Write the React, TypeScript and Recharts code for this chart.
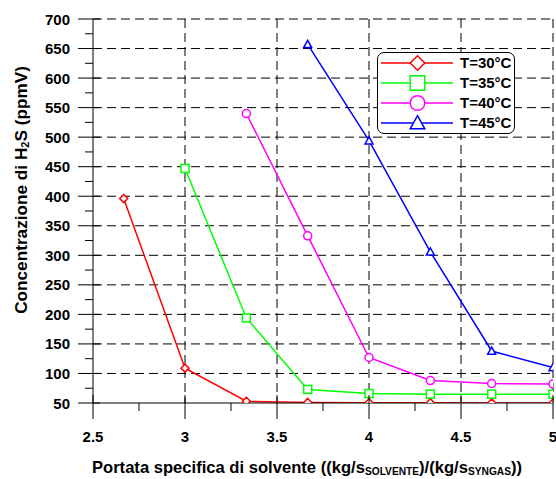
import React from 'react';
import { LineChart, Line, XAxis, YAxis, CartesianGrid, Legend } from 'recharts';

const FONT = "Arial, 'Liberation Sans', sans-serif";

const xValues = [2.6667, 3, 3.3333, 3.6667, 4, 4.3333, 4.6667, 5];
const t30 = [396, 109, 53, 51, 50.5, 50.3, 50.2, 50];
const t35 = [null, 447, 194, 73, 66, 65, 65, 65];
const t40 = [null, null, 540, 333, 127, 88, 83, 82];
const t45 = [null, null, null, 657, 494, 306, 138, 110];

const seriesNames = ['T=30°C', 'T=35°C', 'T=40°C', 'T=45°C'];
const seriesKeys = ['t30', 't35', 't40', 't45'];
const seriesColors = ['#ff0000', '#00ff00', '#ff00ff', '#0000ff'];
const seriesShapes = ['diamond', 'square', 'circle', 'triangle'];

const xMajor = [2.5, 3, 3.5, 4, 4.5, 5];
const xMinor = [2.75, 3.25, 3.75, 4.25, 4.75];
const yMajor = [50, 100, 150, 200, 250, 300, 350, 400, 450, 500, 550, 600, 650, 700];
const yMinor = [75, 125, 175, 225, 275, 325, 375, 425, 475, 525, 575, 625, 675];
const xGrid = [3, 3.5, 4, 4.5, 5];
const yGrid = [100, 150, 200, 250, 300, 350, 400, 450, 500, 550, 600, 650, 700];

const data = xValues.map((x, i) => ({
  x,
  t30: t30[i],
  t35: t35[i],
  t40: t40[i],
  t45: t45[i],
}));

function Marker({ shape, cx, cy, r, color, sw }: any) {
  const common = { fill: '#fff', stroke: color, strokeWidth: sw };
  if (shape === 'diamond') {
    return <polygon points={`${cx},${cy - r} ${cx + r},${cy} ${cx},${cy + r} ${cx - r},${cy}`} {...common} />;
  }
  if (shape === 'square') {
    return <rect x={cx - r} y={cy - r} width={2 * r} height={2 * r} {...common} />;
  }
  if (shape === 'circle') {
    return <circle cx={cx} cy={cy} r={r} {...common} />;
  }
  return <polygon points={`${cx},${cy - r} ${cx + r},${cy + r * 0.8} ${cx - r},${cy + r * 0.8}`} {...common} />;
}

function XTick(props: any) {
  const { x, y, payload } = props;
  const major = xMajor.includes(payload.value);
  if (!major) {
    return <line x1={x} x2={x} y1={y} y2={y + 8} stroke="#000" strokeWidth={1} />;
  }
  return (
    <g>
      <line x1={x} x2={x} y1={y - 8} y2={y + 16} stroke="#000" strokeWidth={1} />
      <text x={x} y={y + 33} textAnchor="middle" dominantBaseline="central" fontFamily={FONT} fontWeight="bold" fontSize={15} fill="#000">
        {payload.value}
      </text>
    </g>
  );
}

function YTick(props: any) {
  const { x, y, payload } = props;
  const major = yMajor.includes(payload.value);
  if (!major) {
    return <line x1={x - 8} x2={x} y1={y} y2={y} stroke="#000" strokeWidth={1} />;
  }
  return (
    <g>
      <line x1={x - 15} x2={x + 7} y1={y} y2={y} stroke="#000" strokeWidth={1} />
      <text x={x - 23} y={y} textAnchor="end" dominantBaseline="central" fontFamily={FONT} fontWeight="bold" fontSize={15} fill="#000">
        {payload.value}
      </text>
    </g>
  );
}

function XTitle(props: any) {
  const { viewBox } = props;
  const cx = viewBox.x + viewBox.width / 2 - 16;
  const cy = viewBox.y + 64;
  return (
    <text x={cx} y={cy} textAnchor="middle" dominantBaseline="central" fontFamily={FONT} fontWeight="bold" fontSize={16.6} fill="#000">
      Portata specifica di solvente ((kg/s
      <tspan fontSize={10.2} dy={4}>SOLVENTE</tspan>
      <tspan dy={-4}>)/(kg/s</tspan>
      <tspan fontSize={10.2} dy={4}>SYNGAS</tspan>
      <tspan dy={-4}>))</tspan>
    </text>
  );
}

function YTitle(props: any) {
  const { viewBox } = props;
  const cx = 21;
  const cy = viewBox.y + viewBox.height / 2 - 21;
  return (
    <text x={cx} y={cy} transform={`rotate(-90, ${cx}, ${cy})`} textAnchor="middle" dominantBaseline="central" fontFamily={FONT} fontWeight="bold" fontSize={17.2} fill="#000">
      Concentrazione di H
      <tspan fontSize={11} dy={4}>2</tspan>
      <tspan dy={-4}>S (ppmV)</tspan>
    </text>
  );
}

const renderLegend = () => (
  <div
    style={{
      width: 136,
      height: 80,
      border: '1px solid #000',
      borderRadius: 7,
      background: '#fff',
      fontFamily: FONT,
      fontWeight: 'bold',
      fontSize: 15,
      color: '#000',
    }}
  >
    {seriesKeys.map((k, i) => (
      <div key={k} style={{ display: 'flex', alignItems: 'center', height: 20 }}>
        <svg width={82} height={20} style={{ display: 'block' }}>
          <line x1={3} x2={75} y1={10} y2={10} stroke={seriesColors[i]} strokeWidth={1.5} />
          <Marker shape={seriesShapes[i]} cx={39.5} cy={10} r={7.3} color={seriesColors[i]} sw={1.5} />
        </svg>
        <span style={{ lineHeight: '20px' }}>{seriesNames[i]}</span>
      </div>
    ))}
  </div>
);

export default function App() {
  return (
    <div style={{ position: 'absolute', left: 0, top: 0, width: 556, height: 479, background: '#fff' }}>
      <LineChart width={556} height={479} data={data} margin={{ top: 19, right: 3, bottom: 0, left: 0 }}>
        <CartesianGrid
          stroke="#000"
          strokeWidth={1}
          strokeDasharray="9 5"
          horizontalValues={yGrid}
          verticalValues={xGrid}
        />
        <XAxis
          dataKey="x"
          type="number"
          domain={[2.5, 5]}
          ticks={[...xMajor, ...xMinor].sort((a, b) => a - b)}
          interval={0}
          allowDataOverflow
          tickLine={false}
          tickSize={0}
          tickMargin={0}
          axisLine={{ stroke: '#000', strokeWidth: 1 }}
          height={76}
          tick={<XTick />}
          label={<XTitle />}
        />
        <YAxis
          type="number"
          domain={[50, 700]}
          ticks={[...yMajor, ...yMinor].sort((a, b) => a - b)}
          interval={0}
          allowDataOverflow
          tickLine={false}
          tickSize={0}
          tickMargin={0}
          axisLine={{ stroke: '#000', strokeWidth: 1 }}
          width={93}
          tick={<YTick />}
          label={<YTitle />}
        />
        <Legend
          layout="vertical"
          align="center"
          verticalAlign="middle"
          content={renderLegend}
          wrapperStyle={{ position: 'absolute', left: 377, top: 52, width: 'auto', height: 'auto' }}
        />
        {seriesKeys.map((k, i) => (
          <Line
            key={k}
            dataKey={k}
            name={seriesNames[i]}
            type="linear"
            stroke={seriesColors[i]}
            strokeWidth={1.5}
            isAnimationActive={false}
            connectNulls={false}
            dot={(p: any) => {
              if (p.cy == null || p.value == null) return <g key={`${k}-${p.index}`} />;
              return (
                <Marker
                  key={`${k}-${p.index}`}
                  shape={seriesShapes[i]}
                  cx={p.cx}
                  cy={p.cy}
                  r={4}
                  color={seriesColors[i]}
                  sw={1.5}
                />
              );
            }}
          />
        ))}
      </LineChart>
    </div>
  );
}
